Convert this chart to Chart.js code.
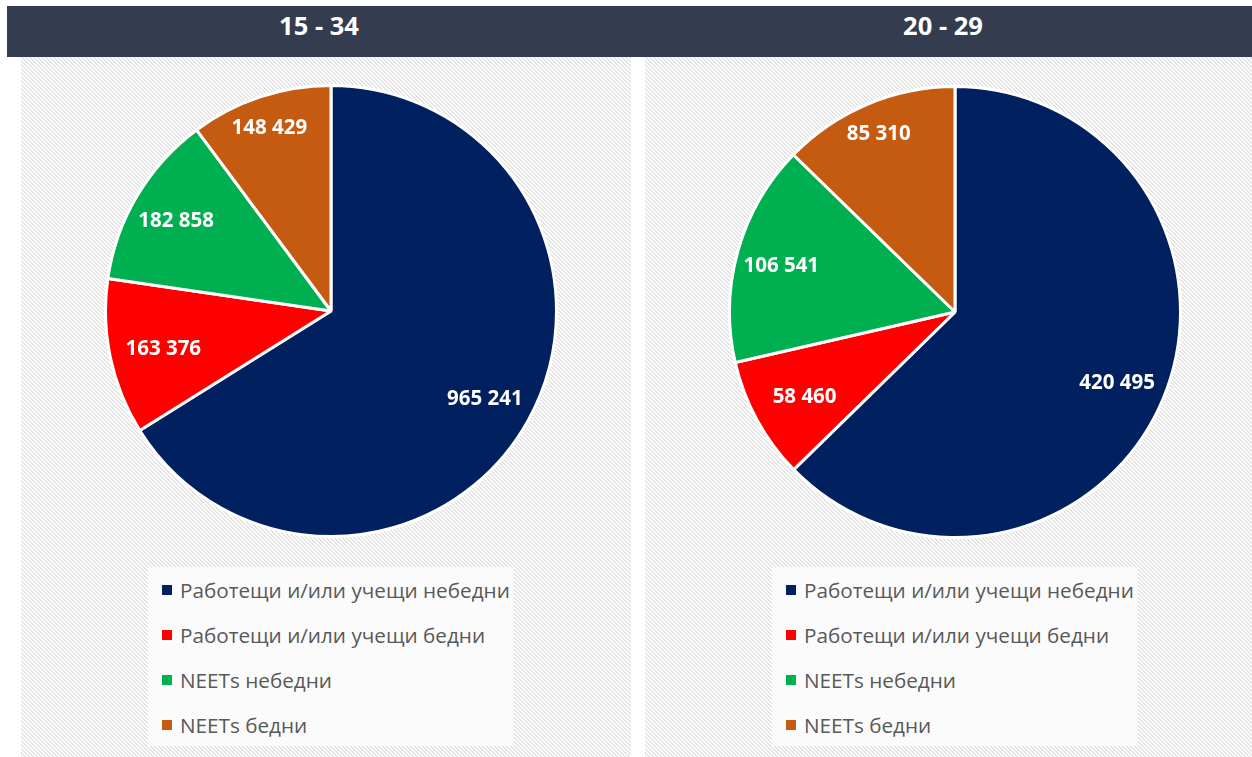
<!DOCTYPE html>
<html>
<head>
<meta charset="utf-8">
<script src="https://cdn.jsdelivr.net/npm/chart.js@4/dist/chart.umd.min.js"></script>
<style>
  html, body { margin:0; padding:0; background:#fff; width:1252px; height:757px; overflow:hidden; font-family:"Open Sans", "DejaVu Sans", sans-serif; }
  #header { position:absolute; left:7px; top:6px; width:1245px; height:51px; background:#343D4F; }
  .title { position:absolute; top:5px; height:40px; line-height:40px; color:#fff; font-weight:bold; font-size:25.5px; text-align:center; width:300px; }
  .panel { position:absolute; top:57px; height:700px; background-color:#fff; }
  .pie { position:absolute; width:454px; height:454px; }
  .legend { position:absolute; background:rgba(255,255,255,0.7); width:366px; height:179px; }
  .legend .item { position:absolute; left:0; height:30px; line-height:30px; font-size:20.7px; color:#595959; white-space:nowrap; }
  .legend .sw { position:absolute; top:10px; width:10px; height:10px; }
  .legend .txt { position:absolute; left:32px; top:0; }
</style>
</head>
<body>
<div id="header"></div>
<div class="title" id="t1" style="left:169px;"></div>
<div class="title" id="t2" style="left:793px;"></div>
<div class="panel" style="left:21px; width:610px;"></div>
<div class="panel" style="left:645px; width:607px;"></div>
<div class="pie" style="left:104px; top:84px;"><canvas id="c1"></canvas></div>
<div class="pie" style="left:728px; top:85px;"><canvas id="c2"></canvas></div>
<div class="legend" id="l1" style="left:148px; top:567px;"></div>
<div class="legend" id="l2" style="left:772px; top:567px;"></div>
<script>
const titles = ["15 - 34", "20 - 29"];
const categories = ["Работещи и/или учещи небедни", "Работещи и/или учещи бедни", "NEETs небедни", "NEETs бедни"];
const values1534 = [965241, 163376, 182858, 148429];
const values2029 = [420495, 58460, 106541, 85310];
const colors = ["#002060", "#FF0000", "#00B050", "#C55A11"];

// hatch tile for the panel background
(function () {
  const t = document.createElement('canvas');
  t.width = 4; t.height = 4;
  const c = t.getContext('2d');
  c.fillStyle = '#ffffff'; c.fillRect(0, 0, 4, 4);
  c.fillStyle = '#e3e3e3';
  for (let y = 0; y < 4; y++) for (let x = 0; x < 4; x++) {
    const k = ((x - y) % 4 + 4) % 4;
    if (k === 0 || k === 1) c.fillRect(x, y, 1, 1);
  }
  const url = t.toDataURL();
  document.querySelectorAll('.panel').forEach(p => { p.style.backgroundImage = 'url(' + url + ')'; });
})();

function fmt(v) { return String(v).replace(/\B(?=(\d{3})+(?!\d))/g, " "); }

const labelPlugin = {
  id: 'sliceLabels',
  afterDatasetsDraw(chart, args, opts) {
    const ctx = chart.ctx;
    const meta = chart.getDatasetMeta(0);
    const ds = chart.data.datasets[0];
    ctx.save();
    ctx.font = 'bold 20.5px "Open Sans", sans-serif';
    ctx.fillStyle = '#fff';
    ctx.textAlign = 'center';
    ctx.textBaseline = 'middle';
    meta.data.forEach((arc, i) => {
      const p = arc.getProps(['x','y','startAngle','endAngle','outerRadius'], true);
      const mid = (p.startAngle + p.endAngle) / 2;
      const r = p.outerRadius * opts.radii[i];
      ctx.fillText(fmt(ds.data[i]), p.x + Math.cos(mid) * r, p.y + Math.sin(mid) * r + 3);
    });
    ctx.restore();
  }
};

function makeChart(id, values, legendId, titleId, title) {
  document.getElementById(titleId).textContent = title;
  const chart = new Chart(document.getElementById(id), {
    type: 'pie',
    data: {
      labels: categories,
      datasets: [{ data: values, backgroundColor: colors, borderColor: '#fff', borderWidth: 3 }]
    },
    options: {
      responsive: true,
      maintainAspectRatio: false,
      animation: false,
      layout: { padding: 0 },
      plugins: {
        legend: { display: false },
        tooltip: { enabled: false },
        sliceLabels: { radii: [0.78, 0.76, 0.8, 0.87] }
      }
    },
    plugins: [labelPlugin]
  });
  const items = Chart.overrides.pie.plugins.legend.labels.generateLabels(chart);
  const leg = document.getElementById(legendId);
  items.forEach((it, i) => {
    const d = document.createElement('div');
    d.className = 'item';
    d.style.top = (8 + i * 45) + 'px';
    d.innerHTML = '<span class="sw" style="left:14px;background:' + it.fillStyle + '"></span><span class="txt"></span>';
    d.querySelector('.txt').textContent = it.text;
    leg.appendChild(d);
  });
}
makeChart('c1', values1534, 'l1', 't1', titles[0]);
makeChart('c2', values2029, 'l2', 't2', titles[1]);
</script>
</body>
</html>
